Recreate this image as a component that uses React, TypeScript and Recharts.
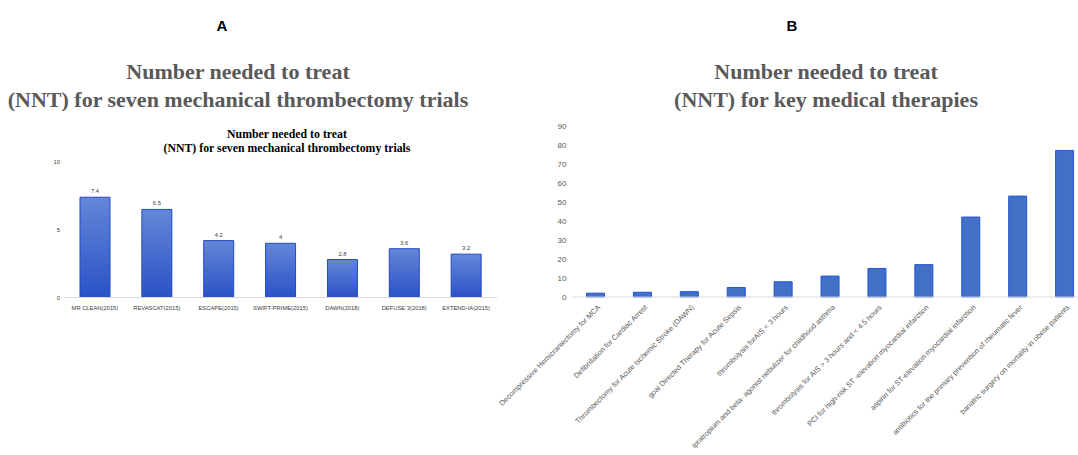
import { BarChart, Bar, XAxis, YAxis, LabelList } from 'recharts';

// Panel A: seven mechanical thrombectomy trials
const trialNames = [
  'MR CLEAN(2015)',
  'REVASCAT(2015)',
  'ESCAPE(2015)',
  'SWIFT-PRIME(2015)',
  'DAWN(2018)',
  'DEFUSE 3(2018)',
  'EXTEND-IA(2015)',
];
const trialNnt = [7.4, 6.5, 4.2, 4, 2.8, 3.6, 3.2];
const trialTicks = [0, 5, 10];

// Panel B: key medical therapies
const therapyNames = [
  'Decompressive Hemicraniectomy for MCA',
  'Defibrillation for Cardiac Arrest',
  'Thrombectomy for Acute Ischemic Stroke (DAWN)',
  'goal Directed Therapy for Acute Sepsis',
  'thrombolysis forAIS < 3 hours',
  'ipratropium and beta- agonist nebulizer for childhood asthma',
  'thrombolysis for AIS > 3 hours and < 4.5 hours',
  'PCI for high-risk ST -elevation myocardial infarction',
  'aspirin for ST-elevation myocardial infarction',
  'antibiotics for the primary prevention of rheumatic fever',
  'bariatric surgery on mortality in obese patients',
];
const therapyNnt = [2, 2.5, 2.8, 5, 8, 11, 15, 17, 42, 53, 77];
const therapyTicks = [0, 10, 20, 30, 40, 50, 60, 70, 80, 90];

const trialData = trialNames.map((name, i) => ({ name, nnt: trialNnt[i] }));
const therapyData = therapyNames.map((name, i) => ({ name, nnt: therapyNnt[i] }));

const sans = '"Liberation Sans", Arial, sans-serif';
const serif = '"Liberation Serif", "Times New Roman", serif';

function TherapyTick(props: any) {
  const { x, y, payload } = props;
  return (
    <g transform={`translate(${x + 2},${y})`}>
      <text
        x={0}
        y={0}
        dy={4}
        textAnchor="end"
        transform="rotate(-45)"
        fontSize={7.4}
        fontFamily={sans}
        fill="#595959"
      >
        {payload.value}
      </text>
    </g>
  );
}

const bigTitle: React.CSSProperties = {
  position: 'absolute',
  fontFamily: serif,
  fontWeight: 'bold',
  fontSize: 22,
  lineHeight: '28px',
  color: '#595959',
  textAlign: 'center',
  whiteSpace: 'nowrap',
  transform: 'translateX(-50%)',
};

const panelLetter: React.CSSProperties = {
  position: 'absolute',
  fontFamily: sans,
  fontWeight: 'bold',
  fontSize: 15,
  color: '#000',
  transform: 'translateX(-50%)',
};

export default function App() {
  return (
    <div
      style={{
        position: 'absolute',
        left: 0,
        top: 0,
        width: 1078,
        height: 455,
        overflow: 'hidden',
        background: '#fff',
      }}
    >
      <div style={{ ...panelLetter, left: 222, top: 17 }}>A</div>
      <div style={{ ...panelLetter, left: 792, top: 17 }}>B</div>

      <div style={{ ...bigTitle, left: 238, top: 58 }}>
        Number needed to treat
        <br />
        (NNT) for seven mechanical thrombectomy trials
      </div>
      <div style={{ ...bigTitle, left: 826, top: 58 }}>
        Number needed to treat
        <br />
        (NNT) for key medical therapies
      </div>

      <div
        style={{
          position: 'absolute',
          left: 287,
          top: 128,
          transform: 'translateX(-50%)',
          fontFamily: serif,
          fontWeight: 'bold',
          fontSize: 11.8,
          lineHeight: '13.5px',
          color: '#000',
          textAlign: 'center',
          whiteSpace: 'nowrap',
        }}
      >
        Number needed to treat
        <br />
        (NNT) for seven mechanical thrombectomy trials
      </div>

      {/* Panel A chart */}
      <div style={{ position: 'absolute', left: 0, top: 115 }}>
        <BarChart
          width={530}
          height={200}
          data={trialData}
          margin={{ top: 47, right: 33, left: 0, bottom: 0 }}
        >
          <defs>
            <linearGradient id="trialFill" x1="0" y1="0" x2="0" y2="1">
              <stop offset="0%" stopColor="#6487d8" />
              <stop offset="100%" stopColor="#2a52c6" />
            </linearGradient>
          </defs>
          <XAxis
            dataKey="name"
            interval={0}
            tickLine={false}
            axisLine={{ stroke: '#d9d9d9' }}
            tick={{ fontSize: 5.8, fill: '#404040', fontFamily: sans }}
            tickMargin={2}
            height={17.5}
          />
          <YAxis
            domain={[0, 10]}
            ticks={trialTicks}
            width={64}
            axisLine={false}
            tickLine={false}
            tickSize={0}
            tickMargin={4}
            tick={{ fontSize: 5.8, fill: '#404040', fontFamily: sans }}
          />
          <Bar
            dataKey="nnt"
            barSize={30}
            fill="url(#trialFill)"
            stroke="#2148c8"
            strokeWidth={1}
            isAnimationActive={false}
          >
            <LabelList
              dataKey="nnt"
              position="top"
              offset={4}
              style={{ fontSize: 5.8, fill: '#404040', fontFamily: sans }}
            />
          </Bar>
        </BarChart>
      </div>

      {/* Panel B chart */}
      <div style={{ position: 'absolute', left: 450, top: 115 }}>
        <BarChart
          width={640}
          height={340}
          data={therapyData}
          margin={{ top: 10.7, right: 1.5, left: 0, bottom: 0 }}
        >
          <XAxis
            dataKey="name"
            interval={0}
            tickLine={false}
            axisLine={{ stroke: '#d9d9d9' }}
            tick={<TherapyTick />}
            height={158}
          />
          <YAxis
            domain={[0, 90]}
            ticks={therapyTicks}
            width={122.5}
            axisLine={false}
            tickLine={false}
            tickSize={0}
            tickMargin={6}
            tick={{ fontSize: 8, fill: '#595959', fontFamily: sans }}
          />
          <Bar
            dataKey="nnt"
            barSize={18}
            fill="#4170c6"
            stroke="#2255d6"
            strokeWidth={1}
            isAnimationActive={false}
          />
        </BarChart>
      </div>
    </div>
  );
}
